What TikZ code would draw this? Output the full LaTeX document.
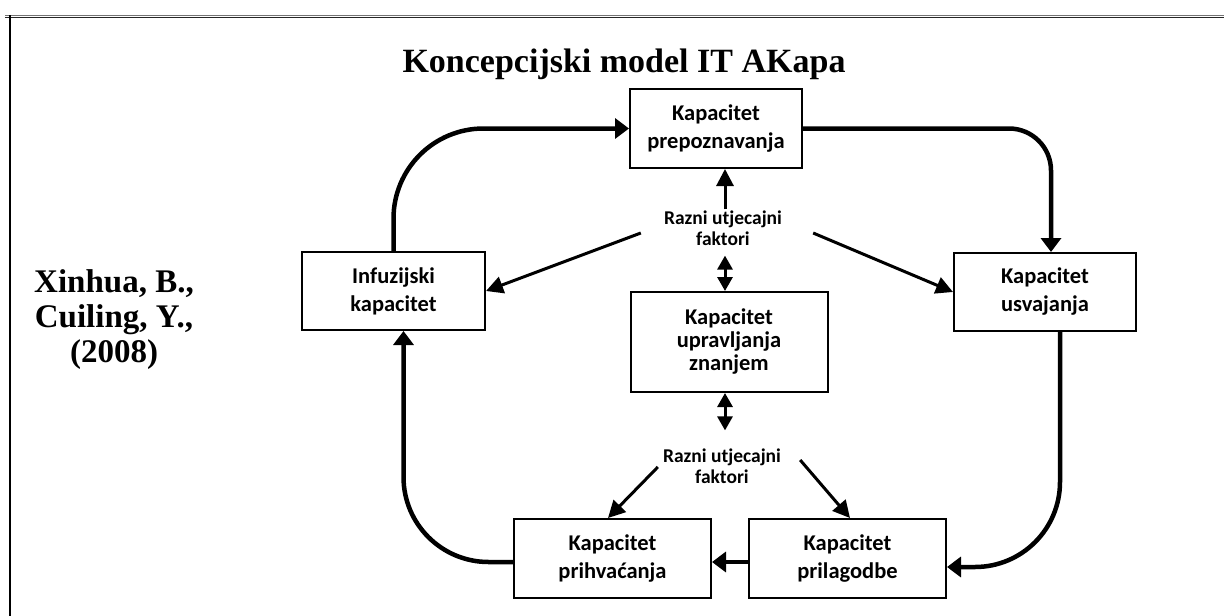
\documentclass[tikz,border=0pt]{standalone}
\usepackage{fontspec}
\setmainfont{Liberation Serif}
\newfontfamily\boxfont{Carlito}
\usetikzlibrary{arrows.meta,calc}

\begin{document}
\begin{tikzpicture}[x=1pt,y=-1pt,
  capbox/.style={draw, line width=2pt, fill=white, inner sep=0pt, align=center,
    font=\boxfont\bfseries\fontsize{22.5}{28}\selectfont},
  factor/.style={inner sep=1pt, align=center,
    font=\boxfont\bfseries\fontsize{19.5}{21}\selectfont},
  flow/.style={line width=4.5pt, -{Triangle[length=14pt,width=20pt]}},
  infl/.style={line width=3pt, -{Triangle[length=17pt,width=17pt]}},
  both/.style={line width=3pt, {Triangle[length=14pt,width=15pt]}-{Triangle[length=14pt,width=15pt]}},
]
\useasboundingbox (0,0) rectangle (1224,616);

% page frame
\draw[line width=1pt, black!55] (5,15) -- (1224,15);
\draw[line width=1.6pt, black!85] (5,17.5) -- (1224,17.5);
\draw[line width=1.2pt] (10,15) -- (10,616);

% headings
\node[font=\bfseries\fontsize{34}{40}\selectfont, anchor=base] (title) at (624,72)
  {Koncepcijski model IT AKapa};
\node[font=\bfseries\fontsize{33}{35}\selectfont, align=center] (auth) at (114,320)
  {Xinhua, B.,\\Cuiling, Y.,\\(2008)};

% capacities
\node[capbox, minimum width=172pt, minimum height=79pt] (prep) at (716,128.5) {Kapacitet\\prepoznavanja};
\node[capbox, minimum width=183pt, minimum height=78pt] (inf) at (393.5,291) {Infuzijski\\kapacitet};
\node[capbox, minimum width=182pt, minimum height=78pt] (usv) at (1045,292) {Kapacitet\\usvajanja};
\node[capbox, minimum width=197pt, minimum height=100pt,
  font=\boxfont\bfseries\fontsize{22.5}{23}\selectfont] (upr) at (729,342) {Kapacitet\\upravljanja\\znanjem};
\node[capbox, minimum width=197pt, minimum height=79pt] (prih) at (612.5,558.5) {Kapacitet\\prihvaćanja};
\node[capbox, minimum width=197pt, minimum height=79pt] (pril) at (847.5,558.5) {Kapacitet\\prilagodbe};

% influencing factors
\node[factor] (f1) at (723,228) {Razni utjecajni\\faktori};
\node[factor] (f2) at (722,466) {Razni utjecajni\\faktori};

% main cycle
\draw[flow, rounded corners=90pt] (inf.north) |- (prep.west);
\draw[flow, rounded corners=42pt] (prep.east) -| ([xshift=6pt]usv.north);
\draw[flow, rounded corners=85pt] ([xshift=15pt]usv.south) |- ([yshift=-8.5pt]pril.east);
\draw[flow] ([yshift=-3.5pt]pril.west) -- ([yshift=-3.5pt]prih.east);
\draw[flow, rounded corners=85pt] ([yshift=-3.5pt]prih.west) -| ([xshift=10pt]inf.south);

% links of the factors
\coordinate (a1) at ([xshift=2pt]f1.north);
\coordinate (a2) at ([xshift=2pt]f1.south);
\coordinate (a3) at ([xshift=-4pt]upr.south);
\draw[infl] (a1) -- (a1 |- prep.south);
\draw[both, shorten <=9pt] (a2) -- (a2 |- upr.north);
\draw[both, shorten >=17pt] (a3) -- (a3 |- f2.north);
\draw[infl] ($(f1.west)+(-22,5)$) -- (inf.east);
\draw[infl] ($(f1.east)+(30,5)$) -- (usv.west);
\draw[infl] ($(f2.west)+(-4,1)$) -- ([xshift=-4.5pt]prih.north);
\draw[infl] ($(f2.east)+(18,-6)$) -- ([xshift=2.5pt]pril.north);
\end{tikzpicture}
\end{document}
